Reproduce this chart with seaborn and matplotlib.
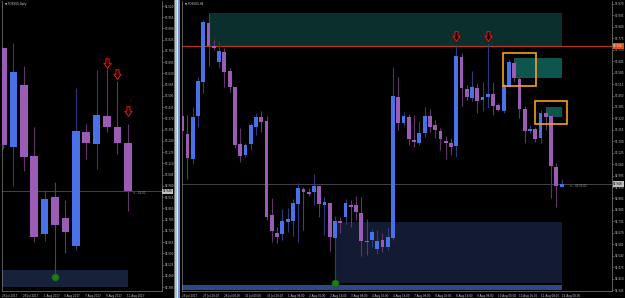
import matplotlib
matplotlib.use("Agg")
import matplotlib.pyplot as plt
import matplotlib.transforms as mtransforms
from matplotlib.patches import Rectangle
from matplotlib.path import Path
import numpy as np
import pandas as pd
import seaborn as sns

# ---------------- data: H4 chart (right) ----------------
R_open = [93.334, 93.232, 93.090, 93.334, 93.527, 93.862, 93.732, 93.641, 93.698, 93.590,
          93.499, 93.175, 93.112, 93.175, 93.271, 93.328, 93.306, 92.771, 92.669, 92.663,
          92.732, 92.737, 92.834, 92.919, 92.902, 92.902, 92.936, 92.828, 92.840, 92.641,
          92.737, 92.760, 92.828, 92.828, 92.783, 92.624, 92.629, 92.578, 92.629, 92.590,
          92.641, 93.442, 93.294, 93.328, 93.198, 93.180, 93.237, 93.334, 93.283, 93.249,
          93.192, 93.180, 93.163, 93.669, 93.487, 93.436, 93.493, 93.425, 93.442, 93.459,
          93.396, 93.362, 93.499, 93.635, 93.544, 93.374, 93.249, 93.260, 93.209, 93.351,
          93.334, 93.044, 92.930]
R_high = [93.351, 93.340, 93.385, 93.556, 93.879, 93.919, 93.771, 93.760, 93.720, 93.607,
          93.499, 93.266, 93.180, 93.294, 93.351, 93.362, 93.334, 92.868, 92.703, 92.806,
          92.811, 92.862, 92.953, 92.930, 92.925, 93.004, 92.936, 92.874, 92.840, 92.766,
          92.760, 92.862, 92.857, 92.879, 92.874, 92.749, 92.692, 92.686, 92.669, 92.703,
          93.612, 93.556, 93.357, 93.345, 93.340, 93.306, 93.385, 93.374, 93.311, 93.266,
          93.220, 93.209, 93.732, 93.692, 93.510, 93.590, 93.521, 93.527, 93.749, 93.527,
          93.408, 93.521, 93.658, 93.652, 93.556, 93.391, 93.283, 93.271, 93.368, 93.362,
          93.334, 93.067, 92.976]
R_low = [93.215, 92.976, 93.061, 93.271, 93.465, 93.618, 93.709, 93.607, 93.499, 93.470,
         93.152, 93.073, 93.101, 93.141, 93.226, 93.243, 92.743, 92.618, 92.612, 92.629,
         92.675, 92.652, 92.618, 92.686, 92.879, 92.828, 92.760, 92.658, 92.567, 92.385,
         92.669, 92.720, 92.703, 92.743, 92.538, 92.544, 92.590, 92.550, 92.561, 92.573,
         92.629, 93.254, 93.277, 93.169, 93.158, 93.169, 93.215, 93.243, 93.209, 93.141,
         93.090, 93.112, 93.101, 93.391, 93.425, 93.419, 93.351, 93.362, 93.379, 93.340,
         93.362, 93.351, 93.499, 93.527, 93.323, 93.180, 93.237, 93.186, 93.180, 93.254,
         92.868, 92.817, 92.930]
R_close = [93.249, 93.095, 93.328, 93.533, 93.868, 93.732, 93.720, 93.703, 93.584, 93.499,
           93.169, 93.107, 93.169, 93.283, 93.328, 93.300, 92.760, 92.680, 92.646, 92.737,
           92.749, 92.840, 92.925, 92.902, 92.891, 92.936, 92.834, 92.845, 92.646, 92.737,
           92.726, 92.840, 92.817, 92.789, 92.624, 92.618, 92.675, 92.624, 92.590, 92.646,
           93.448, 93.294, 93.334, 93.203, 93.186, 93.237, 93.334, 93.271, 93.254, 93.203,
           93.180, 93.158, 93.675, 93.493, 93.442, 93.499, 93.419, 93.442, 93.459, 93.391,
           93.368, 93.510, 93.641, 93.550, 93.374, 93.249, 93.260, 93.203, 93.351, 93.328,
           93.050, 92.936, 92.948]
R_xlabels = ["26 Jul 2017", "27 Jul 16:00", "28 Jul 08:00", "31 Jul 00:00", "31 Jul 16:00",
             "1 Aug 08:00", "2 Aug 00:00", "2 Aug 16:00", "3 Aug 08:00", "4 Aug 00:00",
             "4 Aug 16:00", "7 Aug 08:00", "8 Aug 00:00", "8 Aug 16:00", "9 Aug 08:00",
             "10 Aug 00:00", "10 Aug 16:00", "11 Aug 08:00", "14 Aug 00:00"]
R_xlabel_bars = [0, 4, 8, 12, 16, 20, 24, 28, 32, 36, 40, 44, 48, 52, 56, 60, 64, 68, 72]
R_yticks = [round(93.970 - 0.065 * n, 3) for n in range(26)]
R_supply_zone = [5.28, 72.07, 93.732, 93.919]      # bar from, bar to, low, high
R_teal_zones = [[62.96, 72.07, 93.550, 93.663], [69.03, 72.07, 93.328, 93.385]]
R_orange_boxes = [[60.87, 67.13, 93.504, 93.692], [66.94, 73.02, 93.288, 93.419]]
R_demand_zone = [29.18, 72.07, 92.385, 92.732]
R_strip = [-0.04, 72.07, 92.345, 92.374]
R_level = 93.732
R_arrow_bars = [52, 58]
R_arrow_price = [93.791, 93.791]
R_dot = [29, 92.385]

# ---------------- data: Daily chart (left) ----------------
L_open = [93.777, 93.205, 93.563, 93.153, 92.702, 92.915, 92.794, 92.632, 93.291, 93.222, 93.384, 93.320, 93.228]
L_high = [93.777, 93.806, 93.673, 93.320, 92.956, 93.002, 92.898, 93.546, 93.338, 93.650, 93.661, 93.586, 93.338]
L_low = [93.193, 92.979, 93.066, 92.655, 92.661, 92.453, 92.592, 92.609, 93.135, 93.078, 93.291, 93.164, 92.834]
L_close = [93.216, 93.638, 93.147, 92.684, 92.904, 92.754, 92.713, 93.297, 93.228, 93.390, 93.320, 93.228, 92.948]
L_xlabels = ["26 Jul 2017", "28 Jul 2017", "1 Aug 2017", "3 Aug 2017", "7 Aug 2017", "9 Aug 2017", "11 Aug 2017"]
L_xlabel_bars = [0, 2, 4, 6, 8, 10, 12]
L_yticks = [round(94.020 - 0.065 * n, 3) for n in range(26)]
L_demand_zone = [-0.29, 12.02, 92.395, 92.493]
L_arrow_bars = [10, 11, 12]
L_arrow_price = [93.690, 93.624, 93.413]
L_dot = [5, 92.453]

CURRENT = 92.948

# ---------------- styling ----------------
sns.set_theme(style="dark", rc={"axes.facecolor": "black", "figure.facecolor": "black",
                                 "axes.grid": False})
plt.rcParams["font.family"] = ["DejaVu Sans"]

W, H = 625, 298
fig = plt.figure(figsize=(W / 100, H / 100), dpi=100)
fig.patch.set_facecolor("black")


def ax_rect(x0, y0, x1, y1):
    return [x0 / W, 1 - y1 / H, (x1 - x0) / W, (y1 - y0) / H]


axL = fig.add_axes(ax_rect(2, 1, 162, 291))
axR = fig.add_axes(ax_rect(182, 1, 612, 291))

UP, DN = "#4a72e8", "#9a5cb4"
UPW, DNW = "#2a3c7c", "#623468"
GRAY = "#808080"
TXT = "#c8c8c8"

ARROW = Path([(-0.32, 1.0), (0.32, 1.0), (0.32, 0.05), (0.75, 0.05), (0.0, -1.0),
              (-0.75, 0.05), (-0.32, 0.05), (-0.32, 1.0)],
             [Path.MOVETO] + [Path.LINETO] * 6 + [Path.CLOSEPOLY])


def candles(ax, o, h, l, c, width, minh):
    df = pd.DataFrame({"i": np.arange(len(o)), "open": o, "high": h, "low": l, "close": c})
    up = (df["close"] >= df["open"]).to_numpy()
    ax.vlines(df["i"], df["low"], df["high"], colors=np.where(up, UPW, DNW),
              linewidth=0.8, zorder=3)
    bottom = np.minimum(df["open"], df["close"])
    height = np.maximum((df["close"] - df["open"]).abs(), minh)
    ax.bar(df["i"], height, width=width, bottom=bottom, color=np.where(up, UP, DN),
           linewidth=0, zorder=4)


def arrows(ax, bars, prices):
    ax.scatter(bars, prices, marker=ARROW, s=48, facecolors="black",
               edgecolors="#f01414", linewidths=0.7, zorder=6)


def zone(ax, z, **kw):
    ax.add_patch(Rectangle((z[0], z[2]), z[1] - z[0], z[3] - z[2], **kw))


def style_axes(ax, yticks, xpos, xlabels, ylim, xlim):
    ax.set_facecolor("black")
    ax.set_xlim(*xlim)
    ax.set_ylim(*ylim)
    ax.yaxis.tick_right()
    ax.set_yticks(yticks)
    ax.set_yticklabels([f"{v:.3f}" for v in yticks])
    ax.set_xticks(xpos)
    ax.set_xticklabels(xlabels, ha="left")
    ax.tick_params(axis="both", labelsize=2.0, color=GRAY, labelcolor=TXT,
                   length=1.2, width=0.4, pad=0.8)
    ax.spines["top"].set_visible(False)
    for s in ["left", "right", "bottom"]:
        ax.spines[s].set_color(GRAY)
        ax.spines[s].set_linewidth(0.5)
        ax.spines[s].set_visible(True)
    ax.set_xlabel("")
    ax.set_ylabel("")


def price_box(ax, y, text, fc, tc):
    tr = mtransforms.blended_transform_factory(ax.transAxes, ax.transData)
    ax.text(1.003, y, text, transform=tr, fontsize=2.0, color=tc, va="center", ha="left",
            bbox=dict(boxstyle="square,pad=0.25", fc=fc, ec="none"), zorder=10, clip_on=False)


# ---------- left (daily) ----------
zone(axL, L_demand_zone, color="#17213a", zorder=1, lw=0)
axL.axhline(CURRENT, color="#505050", lw=0.6, zorder=2)
candles(axL, L_open, L_high, L_low, L_close, 0.72, 0.007)
arrows(axL, L_arrow_bars, L_arrow_price)
sns.scatterplot(x=[L_dot[0]], y=[L_dot[1]], ax=axL, s=28, color="#1f7a1f",
                edgecolor="#0d4d0d", linewidth=0.4, zorder=7, legend=False)
axL.text(12.5, 92.938, "<-- 02:01", color="#a0a0a0", fontsize=2.0, ha="left", va="center", zorder=6)
style_axes(axL, L_yticks, [b - 0.1 for b in L_xlabel_bars], L_xlabels,
           (92.372, 94.049), (-0.096, 15.29))
price_box(axL, CURRENT, f"{CURRENT:.3f}", "#c0c0c0", "#000000")

# ---------- right (H4) ----------
zone(axR, R_supply_zone, color="#0a2f2c", zorder=1, lw=0)
for z in R_teal_zones:
    zone(axR, z, color="#0e5550", zorder=1, lw=0)
zone(axR, R_demand_zone, color="#131b32", zorder=1, lw=0)
zone(axR, R_strip, color="#2a4a86", zorder=1, lw=0)
axR.axhline(R_level, color="#b53a14", lw=0.9, zorder=2)
axR.axhline(CURRENT, color="#505050", lw=0.6, zorder=2)
for z in R_orange_boxes:
    zone(axR, z, fill=False, ec="#f5a21e", lw=1.2, zorder=5)
candles(axR, R_open, R_high, R_low, R_close, 0.72, 0.007)
arrows(axR, R_arrow_bars, R_arrow_price)
sns.scatterplot(x=[R_dot[0]], y=[R_dot[1]], ax=axR, s=28, color="#1f7a1f",
                edgecolor="#0d4d0d", linewidth=0.4, zorder=7, legend=False)
axR.text(73.6, 92.936, "<-- 02:55:01", color="#a0a0a0", fontsize=2.0, ha="left", va="center", zorder=6)
style_axes(axR, R_yticks, R_xlabel_bars, R_xlabels, (92.3395, 93.987), (-0.04, 81.56))
price_box(axR, R_level, f"{R_level:.3f}", "#e0501a", "#ffffff")
price_box(axR, CURRENT, f"{CURRENT:.3f}", "#c0c0c0", "#000000")

# ---------- window frames and titles ----------
def frame(x0, x1, color):
    fig.add_artist(Rectangle((x0 / W, 0), (x1 - x0) / W, 1, transform=fig.transFigure,
                             color=color, lw=0, zorder=20))

frame(174, 175, "#707070")
frame(175, 177, "#a8c2e2")
frame(177, 178, "#e6eef8")
frame(178, 180, "#7896cc")

fig.text(5 / W, 1 - 3.5 / H, "▼ FOSSUS,Daily", fontsize=2.0, color=TXT, va="center", ha="left")
fig.text(185 / W, 1 - 3.5 / H, "▼ FOSSUS,H4", fontsize=2.0, color=TXT, va="center", ha="left")

fig.savefig("out.png", dpi=100, facecolor="black")
